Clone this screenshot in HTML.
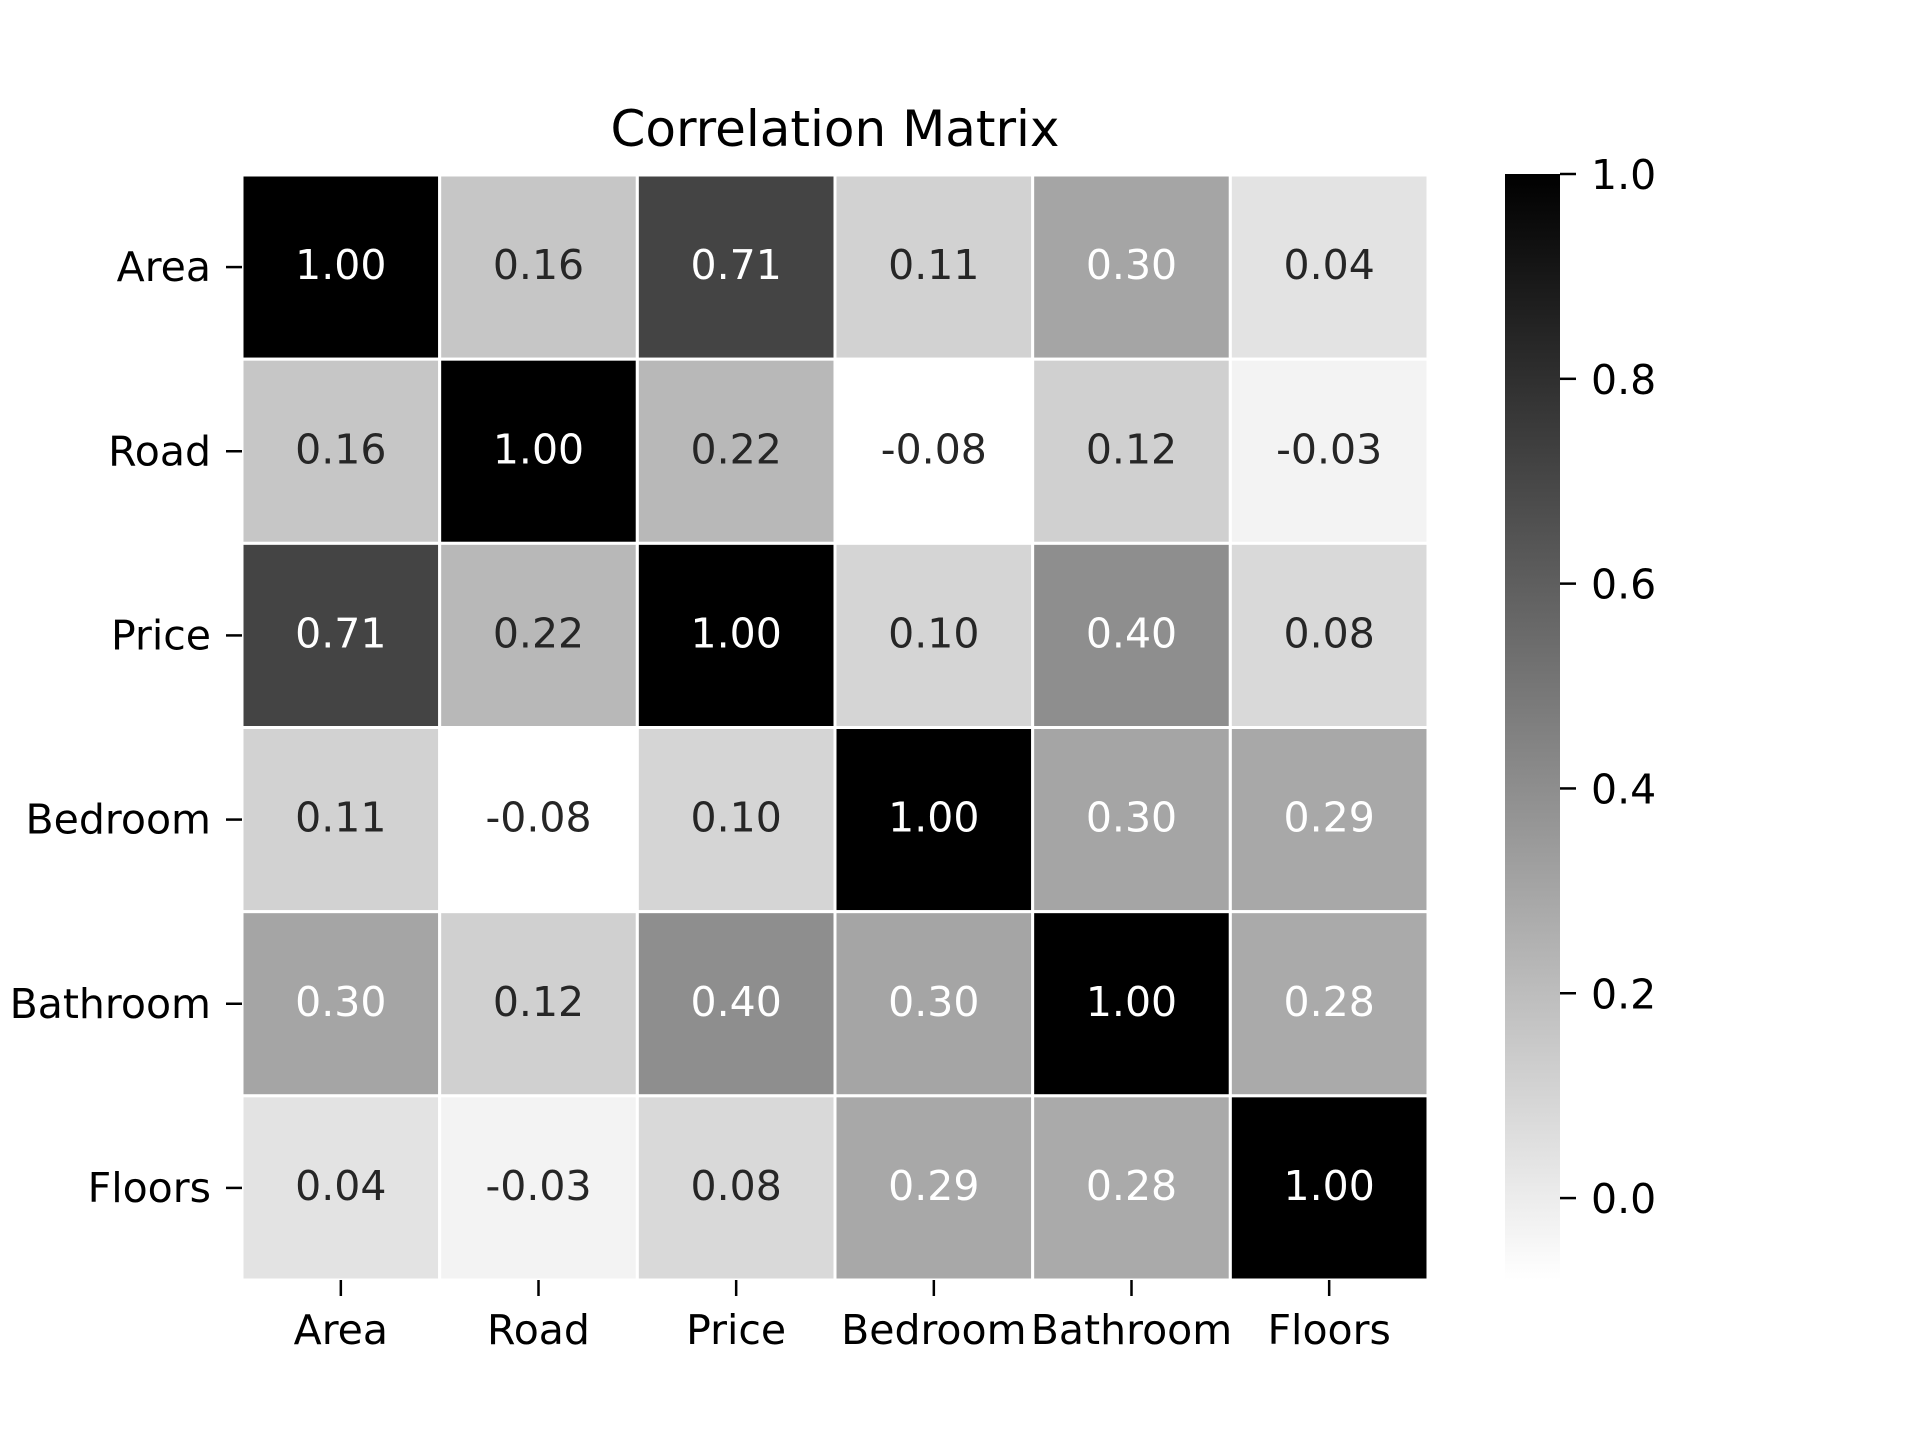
<!DOCTYPE html>
<html><head><meta charset="utf-8"><style>
html,body{margin:0;padding:0;background:#fff;}
svg{display:block;font-family:"DejaVu Sans","Liberation Sans",sans-serif;}
</style></head><body>
<svg id="chart" width="1920" height="1440" viewBox="0 0 1920 1440">
<defs><linearGradient id="cbg" x1="0" y1="1" x2="0" y2="0"><stop offset="0" stop-color="#fff"/><stop offset="1" stop-color="#000"/></linearGradient></defs>
<text x="835" y="146" font-size="50" text-anchor="middle" fill="#000">Correlation Matrix</text>
<g id="cells"></g>
<g id="axes"></g>
<rect x="1505" y="174" width="55" height="1106" fill="url(#cbg)"/>
<g id="cbar"></g>
</svg>
<script>
const labels = ["Area","Road","Price","Bedroom","Bathroom","Floors"];
const rowArea = [1.00,0.16,0.71,0.11,0.30,0.04];
const rowRoad = [0.16,1.00,0.22,-0.08,0.12,-0.03];
const rowPrice = [0.71,0.22,1.00,0.10,0.40,0.08];
const rowBedroom = [0.11,-0.08,0.10,1.00,0.30,0.29];
const rowBathroom = [0.30,0.12,0.40,0.30,1.00,0.28];
const rowFloors = [0.04,-0.03,0.08,0.29,0.28,1.00];
const cbTicks = [0.0,0.2,0.4,0.6,0.8,1.0];
const vmin = -0.08, vmax = 1.0;

const matrix = [rowArea,rowRoad,rowPrice,rowBedroom,rowBathroom,rowFloors];
const NS = "http://www.w3.org/2000/svg";
const X0 = 242, X1 = 1428, Y0 = 175, Y1 = 1280;
const cw = (X1 - X0) / labels.length, ch = (Y1 - Y0) / labels.length;
const xPos = i => X0 + i * cw;
const yPos = j => Y0 + j * ch;
const cbY = v => 174 + (vmax - v) / (vmax - vmin) * (1280 - 174);
function mk(tag, attrs, parent, txt) {
  const e = document.createElementNS(NS, tag);
  for (const k in attrs) e.setAttribute(k, attrs[k]);
  if (txt !== undefined) e.textContent = txt;
  parent.appendChild(e);
  return e;
}
function grey(v) {
  const t = Math.max(0, Math.min(1, (v - vmin) / (vmax - vmin)));
  return Math.round(255 * (1 - t));
}
function lum(g) { const c = g / 255; return c <= 0.03928 ? c / 12.92 : Math.pow((c + 0.055) / 1.055, 2.4); }
const cells = document.getElementById('cells');
const axes = document.getElementById('axes');
const cbar = document.getElementById('cbar');
matrix.forEach((row, j) => {
  row.forEach((v, i) => {
    const g = grey(v);
    const r = mk('rect', {x: xPos(i), y: yPos(j), width: cw, height: ch, fill: `rgb(${g},${g},${g})`, stroke: '#fff', 'stroke-width': 3}, cells);
    
    
    const t = mk('text', {x: xPos(i) + cw / 2, y: yPos(j) + ch / 2 + 12, 'font-size': 41, 'text-anchor': 'middle', fill: lum(g) > 0.408 ? '#262626' : '#fff'}, cells, v.toFixed(2));
    
    
  });
});
labels.forEach((lab, i) => {
  const cx = xPos(i) + cw / 2;
  const tk = mk('line', {x1: cx, x2: cx, y1: Y1, y2: Y1 + 16, stroke: '#000', 'stroke-width': 2.5}, axes);
  
  
  const xl = mk('text', {x: cx, y: Y1 + 64, 'font-size': 41, 'text-anchor': 'middle', fill: '#000'}, axes, lab);
  
  
  const cy = yPos(i) + ch / 2;
  const tk2 = mk('line', {x1: X0 - 16, x2: X0, y1: cy, y2: cy, stroke: '#000', 'stroke-width': 2.5}, axes);
  
  
  const yl = mk('text', {x: X0 - 31, y: cy + 14, 'font-size': 41, 'text-anchor': 'end', fill: '#000'}, axes, lab);
  
  
});
cbTicks.forEach(v => {
  const y = cbY(v);
  const tk = mk('line', {x1: 1560, x2: 1576, y1: y, y2: y, stroke: '#000', 'stroke-width': 2.5}, cbar);
  
  
  const tl = mk('text', {x: 1591, y: y + 15, 'font-size': 41, fill: '#000'}, cbar, v.toFixed(1));
  
  
});
</script>
</body></html>
